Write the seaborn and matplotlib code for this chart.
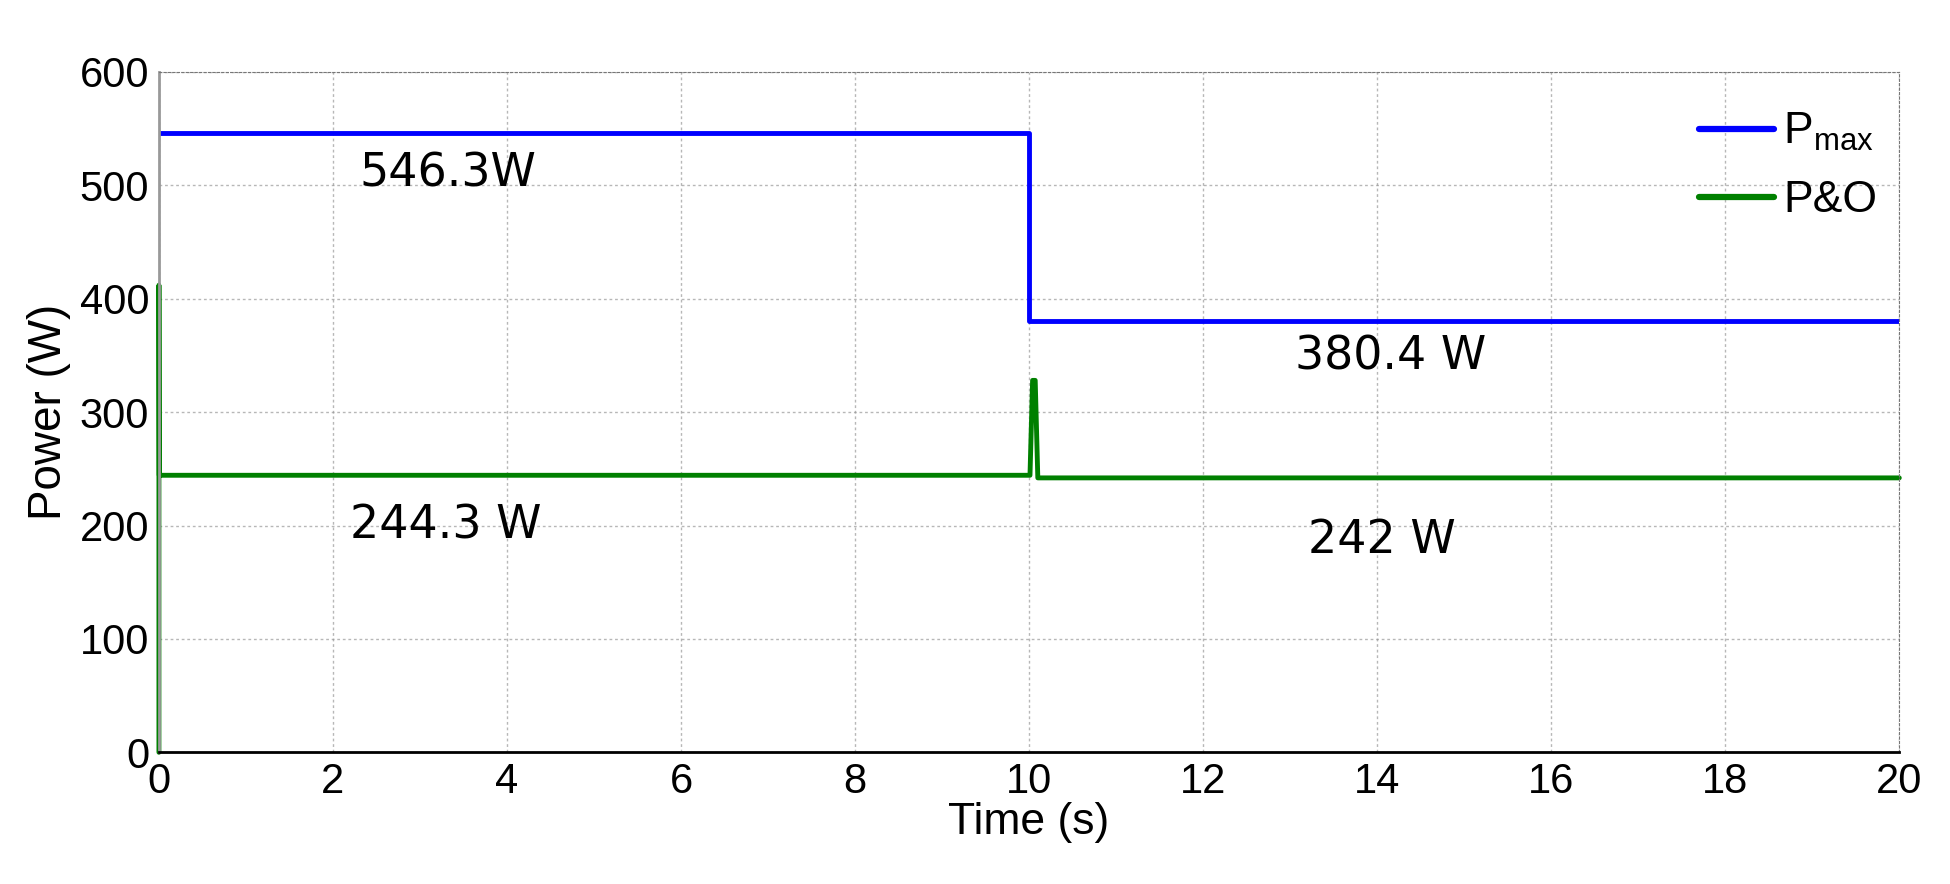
import matplotlib
matplotlib.use("Agg")
import matplotlib.pyplot as plt
import seaborn as sns
import pandas as pd

# data
pmax_time = [0, 10, 10, 20]
pmax_power = [546.3, 546.3, 380.4, 380.4]

po_time = [0, 0, 0.004, 10.01, 10.04, 10.07, 10.1, 20]
po_power = [0, 412, 244.3, 244.3, 328, 328, 242, 242]

labels = ["546.3W", "380.4 W", "244.3 W", "242 W"]
label_x = [2.3, 13.05, 2.2, 13.2]
label_y = [510, 349, 200, 187]

x_ticks = list(range(0, 21, 2))
y_ticks = list(range(0, 601, 100))

sns.set_style("white")
plt.rcParams['font.family'] = ['Liberation Sans', 'DejaVu Sans']
plt.rcParams['text.color'] = 'black'
plt.rcParams['axes.labelcolor'] = 'black'
plt.rcParams['xtick.color'] = 'black'
plt.rcParams['ytick.color'] = 'black'

fig = plt.figure(figsize=(19.5, 8.84), dpi=100)
ax = fig.add_axes([0.0815, 0.149, 0.8925, 0.7696])

df_max = pd.DataFrame({"t": pmax_time, "p": pmax_power})
df_po = pd.DataFrame({"t": po_time, "p": po_power})

sns.lineplot(data=df_max, x="t", y="p", sort=False, estimator=None,
             color="#0000ff", lw=3.5, label="P$_{\\mathregular{max}}$", ax=ax)
sns.lineplot(data=df_po, x="t", y="p", sort=False, estimator=None,
             color="#008000", lw=3.5, label="P&O", ax=ax)
ax.lines[-1].set_clip_on(False)

# value annotations
for txt, x, y in zip(labels, label_x, label_y):
    ax.text(x, y, txt, fontsize=33, family="DejaVu Sans", va="center", ha="left")

ax.set_xlim(0, 20)
ax.set_ylim(0, 600)
ax.set_xticks(x_ticks)
ax.set_yticks(y_ticks)
ax.tick_params(axis="both", labelsize=30, length=0, pad=7)
ax.grid(True, color="#999999", linestyle=(0, (2, 2)), lw=1.0, alpha=0.7)

for s in ["top", "right"]:
    ax.spines[s].set_linestyle((0, (2, 2)))
    ax.spines[s].set_color("#777777")
ax.spines["left"].set_color("#999999")
ax.spines["left"].set_linewidth(2)
ax.spines["bottom"].set_color("black")
ax.spines["bottom"].set_linewidth(2)

ax.set_xlabel("Time (s)", fontsize=32, labelpad=0)
ax.set_ylabel("Power (W)", fontsize=33, labelpad=6)

leg = ax.legend(loc="upper right", bbox_to_anchor=(1.0, 0.975), frameon=False,
                fontsize=32, handlelength=1.7, handletextpad=0.2,
                borderaxespad=0.1, labelspacing=0.61)
for h in leg.get_lines():
    h.set_linewidth(4.5)

fig.savefig("out.png", dpi=100)
